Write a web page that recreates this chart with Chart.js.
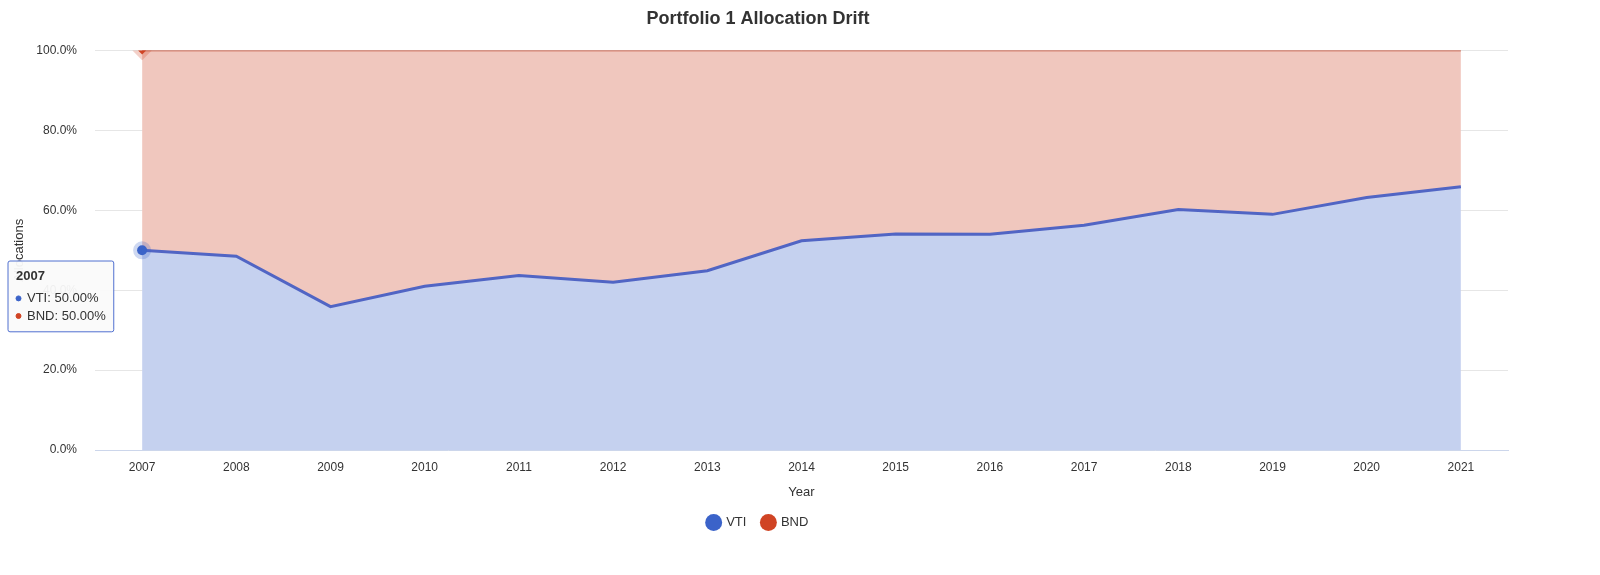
<!DOCTYPE html>
<html>
<head>
<meta charset="utf-8">
<script src="https://cdn.jsdelivr.net/npm/chart.js@4/dist/chart.umd.min.js"></script>
<style>
html,body{margin:0;background:#fff;overflow:hidden;}
#wrap{width:1600px;height:575px;}
</style>
</head>
<body>
<div id="wrap"><canvas id="drift"></canvas></div>
<script>
var years = ['2007','2008','2009','2010','2011','2012','2013','2014','2015','2016','2017','2018','2019','2020','2021'];
var vti = [50.0,48.5,35.9,41.0,43.7,42.0,44.9,52.4,54.1,54.0,56.3,60.2,59.0,63.2,65.9];
var bnd = [50.0,51.5,64.1,59.0,56.3,58.0,55.1,47.6,45.9,46.0,43.7,39.8,41.0,36.8,34.1];

Chart.defaults.font.family = '"Liberation Sans", Arial, sans-serif';
Chart.defaults.color = '#333';

Chart.Tooltip.positioners.fixedLeft = function(items){
	if(!items.length) return false;
	return {x: 10, y: 261};
};

var ctx = document.getElementById('drift');
var chart = new Chart(ctx, {
	type: 'line',
	data: {
		labels: years,
		datasets: [
			{
				label: 'VTI',
				data: vti,
				borderColor: '#5165c4',
				backgroundColor: 'rgba(197,209,239,1)',
				borderWidth: 3,
				fill: 'origin',
				pointRadius: 0,
				pointHoverRadius: 5,
				pointBackgroundColor: '#3b63c9',
				pointHoverBackgroundColor: '#3b63c9',
				pointHoverBorderColor: 'rgba(59,99,201,0.25)',
				pointHoverBorderWidth: 8,
				pointStyle: 'circle',
				tension: 0
			},
			{
				label: 'BND',
				data: bnd,
				borderColor: '#c0452c',
				backgroundColor: 'rgba(240,199,190,1)',
				borderWidth: 1.5,
				fill: '-1',
				pointRadius: 0,
				pointHoverRadius: 4,
				pointStyle: 'rectRot',
				pointBackgroundColor: '#d04424',
				pointHoverBackgroundColor: '#d04424',
				pointHoverBorderColor: 'rgba(208,68,36,0.25)',
				pointHoverBorderWidth: 8,
				tension: 0
			}
		]
	},
	options: {
		responsive: true,
		maintainAspectRatio: false,
		animation: false,
		interaction: {mode: 'index', intersect: false},
		layout: {padding: {left: 8, right: 92, top: 4, bottom: 36}},
		scales: {
			x: {
				offset: true,
				grid: {display: false, drawTicks: false},
				border: {color: '#ccd6eb'},
				ticks: {color: '#333', font: {size: 12}, padding: 10},
				title: {display: true, text: 'Year', color: '#333', font: {size: 13}, padding: {top: 0, bottom: 0}}
			},
			y: {
				stacked: true,
				min: 0, max: 100,
				grid: {color: '#e6e6e6', drawTicks: false},
				border: {display: false},
				afterFit: function(s){ s.width = 87; },
				ticks: {stepSize: 20, padding: 18, color: '#333', font: {size: 12},
					callback: function(v){ return v.toFixed(1) + '%'; }},
				title: {display: true, text: 'Allocations', color: '#333', font: {size: 13}}
			}
		},
		plugins: {
			title: {display: true, text: 'Portfolio 1 Allocation Drift', color: '#333',
				font: {size: 18, weight: 'bold'}, padding: {top: 4, bottom: 21}},
			legend: {position: 'bottom',
				labels: {usePointStyle: true, pointStyle: 'circle', boxWidth: 12, boxHeight: 12,
					padding: 16, color: '#333', font: {size: 13},
					generateLabels: function(c){
						var cols = ['#3b63c9','#d04424'];
						return c.data.datasets.map(function(d,i){
							return {text: d.label, fillStyle: cols[i], strokeStyle: cols[i], lineWidth: 0,
								pointStyle: 'circle', datasetIndex: i, fontColor: '#333'};
						});
					}}
			},
			tooltip: {
				position: 'fixedLeft',
				xAlign: 'left', yAlign: 'top',
				caretSize: 0, caretPadding: 0,
				backgroundColor: 'rgba(250,250,250,0.95)',
				borderColor: '#5170d0', borderWidth: 1,
				titleColor: '#333', bodyColor: '#333',
				titleFont: {size: 13, weight: 'bold'}, bodyFont: {size: 13},
				cornerRadius: 2, padding: 8, boxPadding: 4,
				usePointStyle: true, boxWidth: 5, boxHeight: 5,
				callbacks: {
					label: function(it){ return it.dataset.label + ': ' + it.parsed.y.toFixed(2) + '%'; },
					labelColor: function(it){
						var c = it.datasetIndex === 0 ? '#3b63c9' : '#d04424';
						return {borderColor: c, backgroundColor: c};
					},
					labelPointStyle: function(){ return {pointStyle: 'circle', rotation: 0}; }
				}
			}
		}
	}
});

var act = [{datasetIndex: 0, index: 0}, {datasetIndex: 1, index: 0}];
chart.setActiveElements(act);
chart.tooltip.setActiveElements(act, {x: 141, y: 255});
chart.update();
</script>
</body>
</html>
